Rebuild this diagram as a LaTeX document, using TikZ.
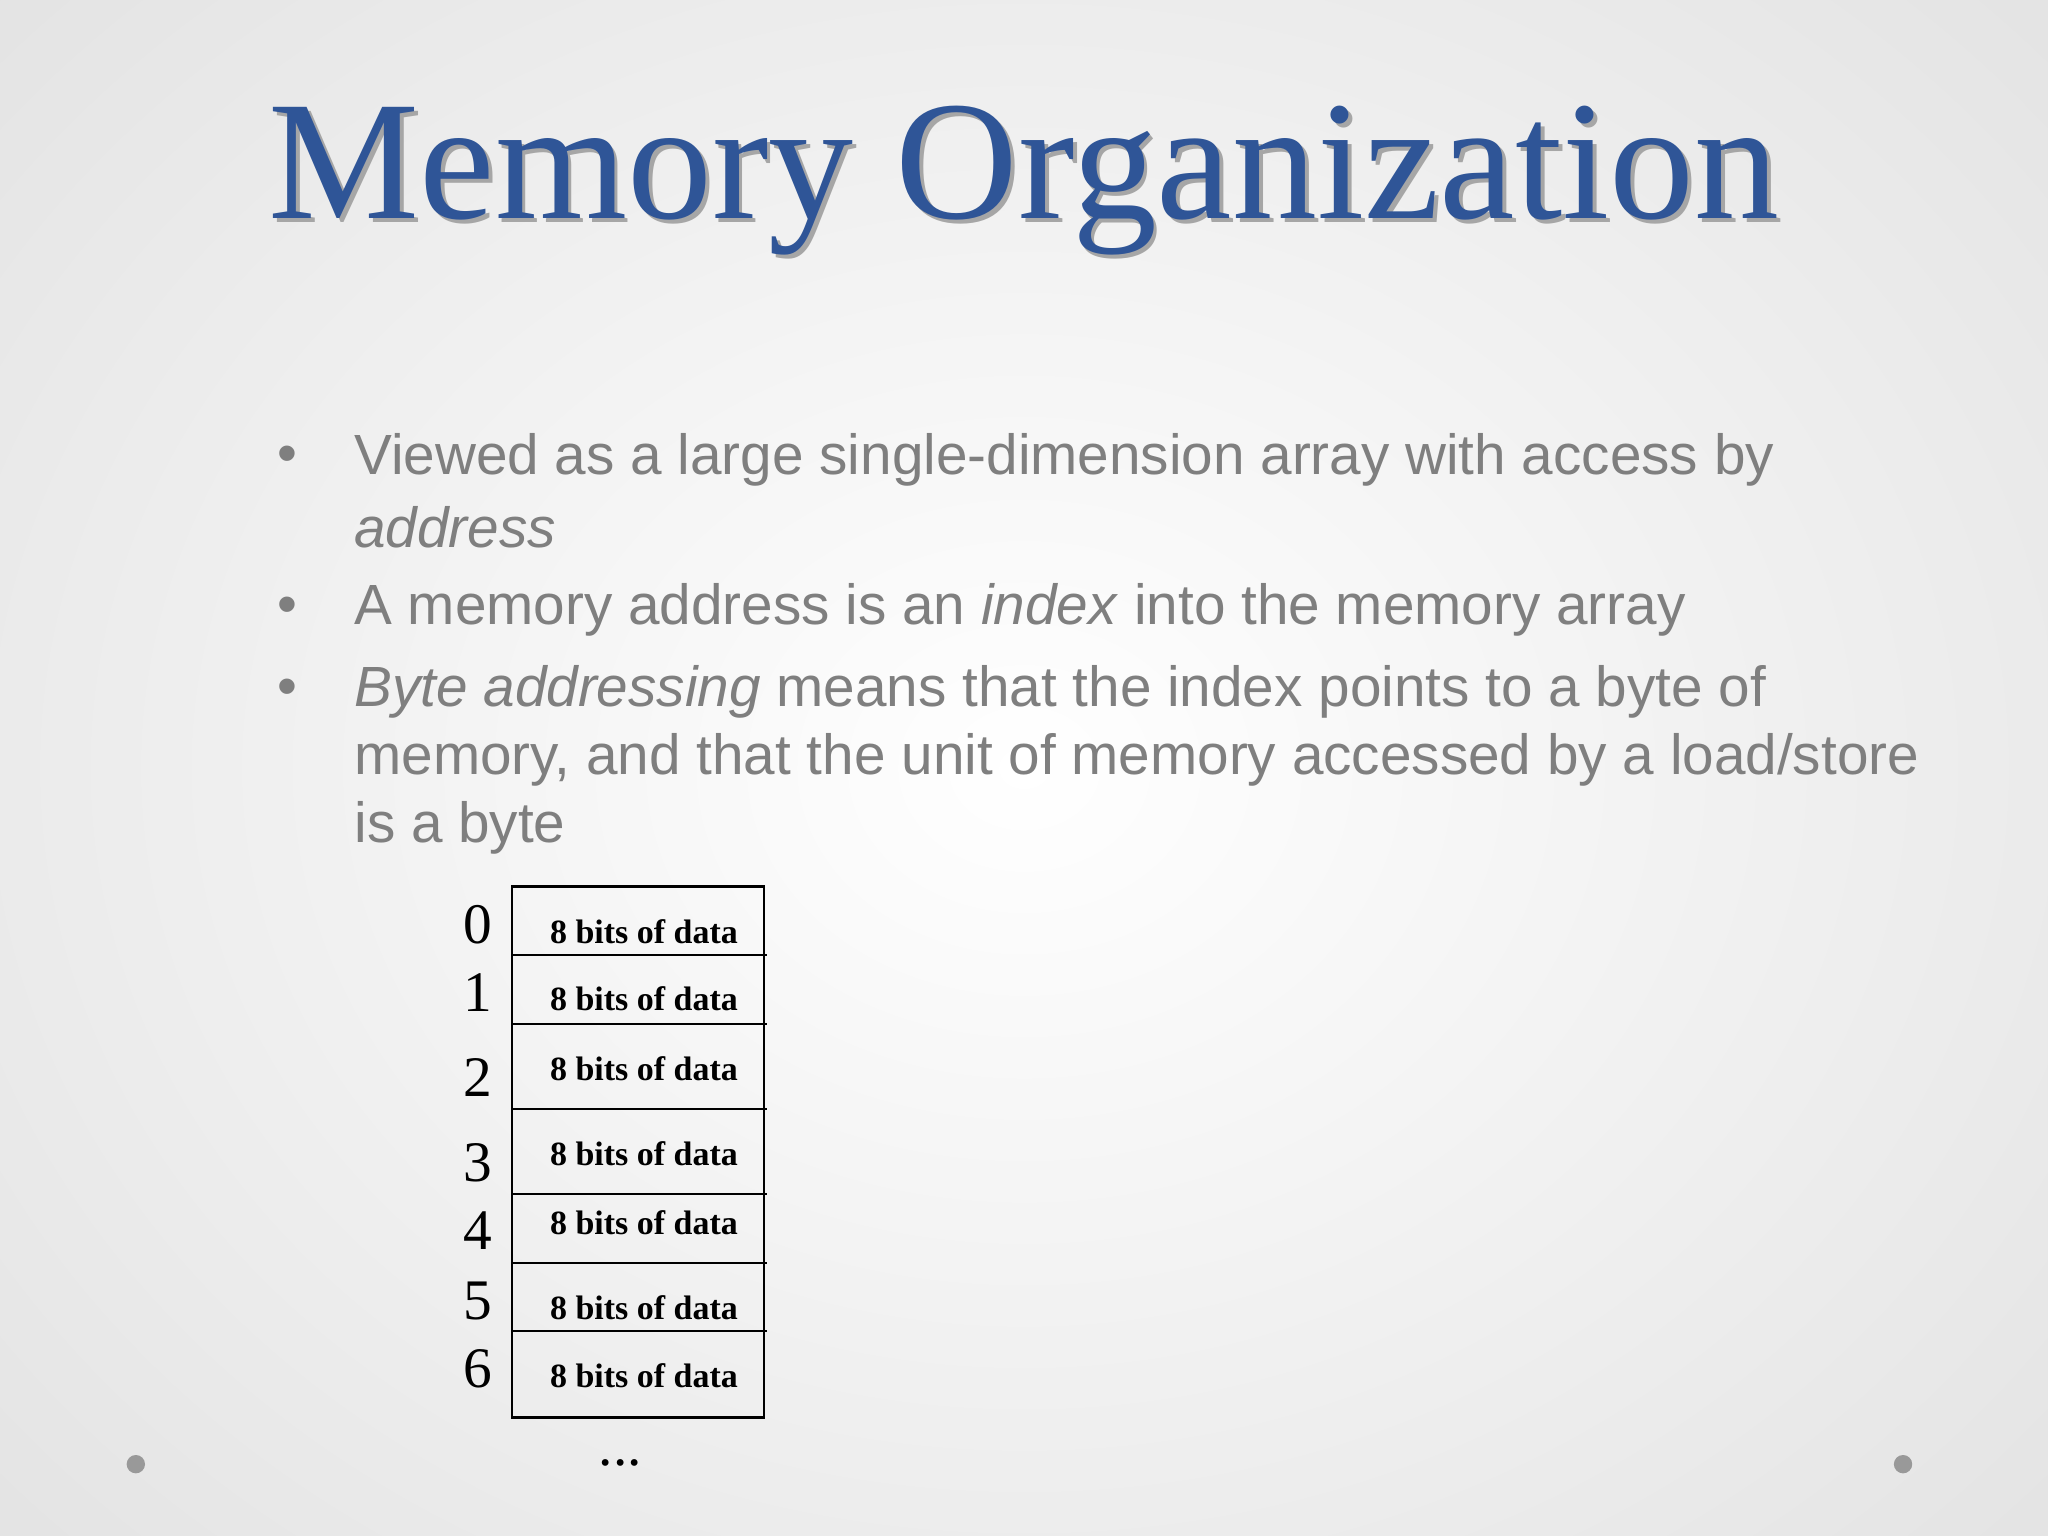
\documentclass[tikz,border=0pt]{standalone}
\usepackage{fontspec}
\setmainfont{Liberation Serif}
\setsansfont{Liberation Sans}
\definecolor{titleblue}{HTML}{2F5597}
\definecolor{bodygray}{HTML}{7F7F7F}
\tikzset{
 btxt/.style={anchor=west,inner sep=0pt,font=\sffamily\fontsize{24.7}{28}\selectfont,text=bodygray},
 cell/.style={font=\bfseries\fontsize{14.8}{16}\selectfont,inner sep=0pt},
 idx/.style={font=\fontsize{25}{28}\selectfont,inner sep=0pt},
 dot/.style={circle,fill=gray!80,inner sep=0pt,minimum size=8pt}
}
\begin{document}
\begin{tikzpicture}[x=0.02cm,y=-0.02cm]
\useasboundingbox (0,0) rectangle (1568,1176);
\shade[inner color=white,outer color=gray!22] (-300,-300) rectangle (1868,1476);
\node[font=\fontsize{74}{80}\selectfont,text=black!35,inner sep=0pt] at (787,141) {Memory Organization};
\node[font=\fontsize{74}{80}\selectfont,text=titleblue,inner sep=0pt] (title) at (784,138) {Memory Organization};
\foreach \y in {352,467,530} \node[btxt] at (212,\y) {•};
\node[btxt] (l1) at (271,352) {Viewed as a large single-dimension array with access by};
\node[btxt] (l2) at (271,404) {\itshape address};
\node[btxt] (l3) at (271,467) {A memory address is an \textit{index} into the memory array};
\node[btxt] (l4) at (271,530) {\textit{Byte addressing} means that the index points to a byte of};
\node[btxt] (l5) at (271,582) {memory, and that the unit of memory accessed by a load/store};
\node[btxt] (l6) at (271,634) {is a byte};
\draw[line width=1.2pt] (392,679) rectangle (585,1085);
\foreach \y in {731,784,849,914,967,1019} \draw[line width=1pt] (392,\y) -- (587,\y);
\foreach \n/\y in {0/713,1/765,2/818,3/883,4/936,5/1001,6/1053} \node[cell] (c\n) at (493,\y) {8 bits of data};
\foreach \n/\y in {0/708,1/760,2/825,3/890,4/942,5/996,6/1048} \node[idx] (i\n) at (366,\y) {\n};
\node[idx] (more) at (475,1120) {...};
\node[dot] (d1) at (104,1121) {};
\node[dot] (d2) at (1457,1121) {};
\end{tikzpicture}
\end{document}
